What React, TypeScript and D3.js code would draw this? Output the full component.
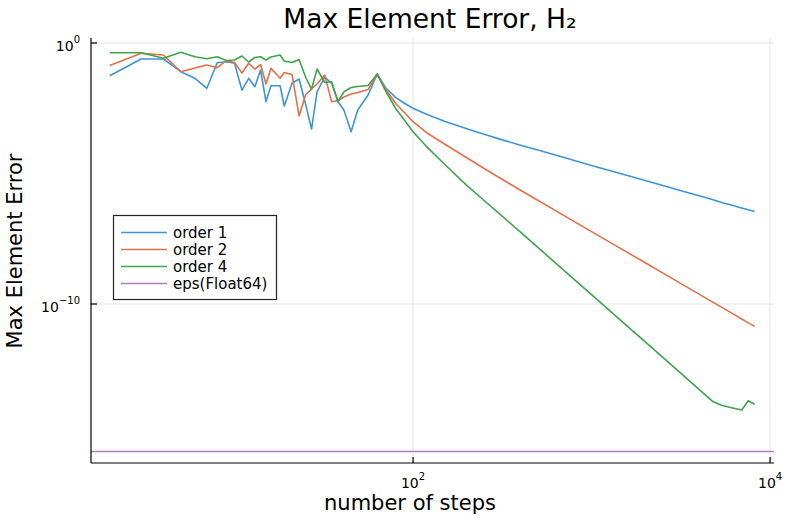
import React, { useEffect, useRef } from 'react'
import * as d3 from 'd3'

// number of steps (x) and max element error per method (y)
const steps = [2, 3, 4, 5, 6, 7, 8, 9, 10, 11, 12, 13, 14, 15, 16, 18, 19, 21, 23, 25, 27, 29, 32, 35, 38, 41, 45, 49, 56, 63,
  70, 80, 90, 100, 120, 150, 200, 250, 300, 400, 500, 750, 1000, 1500, 2000, 3000, 4000, 4800, 5400, 6000, 6934, 7551, 8192]

const order1 = [0.0558, 0.244, 0.244, 0.0794, 0.0445, 0.0184, 0.176, 0.192, 0.167, 0.0158, 0.0445, 0.0212, 0.0925, 0.00564, 0.0231,
  0.0231, 0.00385, 0.0286, 0.0418, 0.0046, 0.000507, 0.0133, 0.0498, 0.0286, 0.00564, 0.00271, 0.0004, 0.00271, 0.0102, 0.0649,
  0.0197, 8.09e-3, 4.81e-3, 3.15e-3, 1.81e-3, 1.01e-3, 5.16e-4, 3.18e-4, 2.17e-4, 1.22e-4, 7.94e-5, 3.62e-5, 2.04e-5, 9.31e-6,
  5.35e-6, 2.44e-6, 1.40e-6, 9.82e-7, 7.53e-7, 6.38e-7, 4.81e-7, 4.06e-7, 3.50e-7]

const order2 = [0.137, 0.403, 0.347, 0.0794, 0.110, 0.144, 0.113, 0.210, 0.179, 0.0710, 0.167, 0.101, 0.150, 0.0269, 0.107,
  0.0445, 0.0741, 0.0621, 0.0016, 0.0102, 0.0173, 0.0269, 0.0594, 0.00564, 0.00627, 0.00853, 0.0111, 0.0127, 0.0165, 0.0649,
  0.0173, 4.81e-3, 2.08e-3, 9.66e-4, 3.56e-4, 1.35e-4, 4.0e-5, 1.56e-5, 7.35e-6, 2.29e-6, 9.4e-7, 1.87e-7, 5.94e-8, 1.19e-8,
  3.8e-9, 7.55e-10, 2.4e-10, 1.16e-10, 7.28e-11, 4.76e-11, 2.66e-11, 1.9e-11, 1.39e-11]

const order4 = [0.425, 0.425, 0.259, 0.441, 0.299, 0.250, 0.299, 0.214, 0.223, 0.318, 0.187, 0.278, 0.299, 0.223, 0.291,
  0.347, 0.204, 0.179, 0.233, 0.0498, 0.0168, 0.101, 0.0307, 0.0329, 0.00564, 0.0136, 0.0197, 0.0215, 0.0236, 0.0649,
  0.0151, 3.09e-3, 1.05e-3, 4.0e-4, 1.02e-4, 2.27e-5, 3.5e-6, 9.25e-7, 3.18e-7, 5.64e-8, 1.48e-8, 1.27e-9, 2.27e-10, 1.99e-11,
  3.53e-12, 3.04e-13, 5.35e-14, 1.79e-14, 1.29e-14, 1.08e-14, 8.69e-15, 1.97e-14, 1.44e-14]

const epsFloat64 = 2.220446049250313e-16

const seriesNames = ['order 1', 'order 2', 'order 4', 'eps(Float64)']
const xTicks = [100, 10000]
const xTickExp = ['2', '4']
const yTicks = [1, 1e-10]
const yTickExp = ['0', '\u221210']

const colors = ['#3d95d8', '#e3704a', '#3ea44e', '#b07eb8']
const font = 'DejaVu Sans, sans-serif'

export default function App() {
  const ref = useRef<SVGSVGElement>(null)

  useEffect(() => {
    const W = 789, H = 526
    const left = 91, right = 774, top = 38, bottom = 463

    const svg = d3.select(ref.current)
    svg.selectAll('*').remove()

    svg.append('rect').attr('width', W).attr('height', H).attr('fill', 'white')

    const x = d3.scaleLog().domain([Math.pow(10, 0.196), Math.pow(10, 4.022)]).range([left, right])
    const y = d3.scaleLog().domain([Math.pow(10, -16.092), Math.pow(10, 0.192)]).range([bottom, top])

    // grid
    const grid = svg.append('g').attr('stroke', '#e4e4e4').attr('stroke-width', 1)
    xTicks.forEach(t => {
      grid.append('line').attr('x1', x(t)).attr('x2', x(t)).attr('y1', top).attr('y2', bottom)
    })
    yTicks.forEach(t => {
      grid.append('line').attr('x1', left).attr('x2', right).attr('y1', y(t)).attr('y2', y(t))
    })

    // lines
    const line = d3.line<number>()
      .x((d, i) => x(steps[i]))
      .y(d => y(d))

    ;[order1, order2, order4].forEach((s, k) => {
      svg.append('path')
        .datum(s)
        .attr('fill', 'none')
        .attr('stroke', colors[k])
        .attr('stroke-width', 1.6)
        .attr('stroke-linejoin', 'round')
        .attr('d', line)
    })

    svg.append('line')
      .attr('x1', left).attr('x2', right)
      .attr('y1', y(epsFloat64)).attr('y2', y(epsFloat64))
      .attr('stroke', colors[3]).attr('stroke-width', 1.6)

    // axes
    const ax = svg.append('g').attr('stroke', 'black').attr('stroke-width', 1.2)
    ax.append('line').attr('x1', left).attr('x2', left).attr('y1', top).attr('y2', bottom)
    ax.append('line').attr('x1', left).attr('x2', right).attr('y1', bottom).attr('y2', bottom)
    xTicks.forEach(t => {
      ax.append('line').attr('x1', x(t)).attr('x2', x(t)).attr('y1', bottom).attr('y2', bottom - 6)
    })
    yTicks.forEach(t => {
      ax.append('line').attr('x1', left).attr('x2', left + 6).attr('y1', y(t)).attr('y2', y(t))
    })

    // tick labels
    xTicks.forEach((t, i) => {
      const tx = svg.append('text')
        .attr('x', x(t)).attr('y', bottom + 25)
        .attr('text-anchor', 'middle')
        .attr('font-family', font).attr('font-size', 14)
      tx.append('tspan').text('10')
      tx.append('tspan').attr('dy', -8).attr('font-size', 10).text(xTickExp[i])
    })
    yTicks.forEach((t, i) => {
      const tx = svg.append('text')
        .attr('x', left - 11).attr('y', y(t) + 8)
        .attr('text-anchor', 'end')
        .attr('font-family', font).attr('font-size', 14)
      tx.append('tspan').text('10')
      tx.append('tspan').attr('dy', -8).attr('font-size', 10).text(yTickExp[i])
    })

    // titles
    svg.append('text')
      .attr('x', 430).attr('y', 28)
      .attr('text-anchor', 'middle')
      .attr('font-family', font).attr('font-size', 26.5)
      .text('Max Element Error, H\u2082')

    svg.append('text')
      .attr('x', 410).attr('y', 510)
      .attr('text-anchor', 'middle')
      .attr('font-family', font).attr('font-size', 21)
      .text('number of steps')

    svg.append('text')
      .attr('transform', 'translate(22,251) rotate(-90)')
      .attr('text-anchor', 'middle')
      .attr('font-family', font).attr('font-size', 21)
      .text('Max Element Error')

    // legend
    const lg = svg.append('g')
    lg.append('rect')
      .attr('x', 113.5).attr('y', 215.5).attr('width', 163).attr('height', 84)
      .attr('fill', 'white').attr('stroke', '#222').attr('stroke-width', 1.2)
    seriesNames.forEach((name, i) => {
      const ry = 232.5 + i * 17
      lg.append('line')
        .attr('x1', 121).attr('x2', 167).attr('y1', ry).attr('y2', ry)
        .attr('stroke', colors[i]).attr('stroke-width', 1.6)
      lg.append('text')
        .attr('x', 173).attr('y', ry)
        .attr('dominant-baseline', 'central')
        .attr('font-family', font).attr('font-size', 15)
        .text(name)
    })
  }, [])

  return (
    <svg ref={ref} width={789} height={526} style={{ position: 'fixed', left: 0, top: 0 }} />
  )
}
